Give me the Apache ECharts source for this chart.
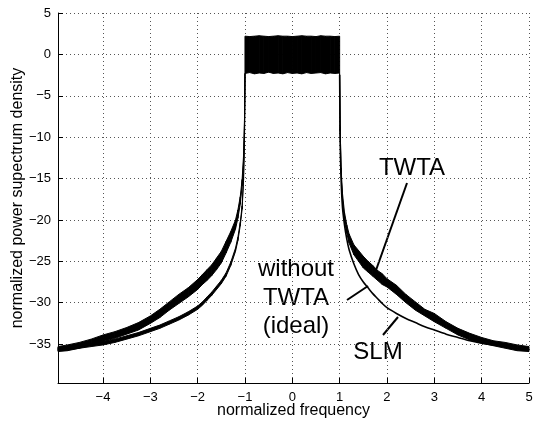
<!DOCTYPE html>
<html>
	<head>
		<meta charset="utf-8">
		<title>normalized power spectrum</title>
		<script src="https://cdn.jsdelivr.net/npm/echarts@6/dist/echarts.min.js"></script>
		<style>
			html, body { margin: 0; padding: 0; background: #fff; }
		</style>
	</head>
	<body>
		<div id="main" style="width: 535px;height:422px;"></div>
		<script type="text/javascript">
			// tick labels
			var xTicks = [-4, -3, -2, -1, 0, 1, 2, 3, 4, 5];
			var yTicks = [5, 0, -5, -10, -15, -20, -25, -30, -35];

			// in-band part (-1 .. 1), noisy band between top and bottom
			var bandF = [-1.0, -0.9, -0.8, -0.7, -0.6, -0.5, -0.4, -0.3, -0.2, -0.1, 0, 0.1, 0.2, 0.3, 0.4, 0.5, 0.6, 0.7, 0.8, 0.9, 1.0];
			var bandTop = [2.2, 2.15, 2.2, 2.25, 2.2, 2.15, 2.2, 2.25, 2.2, 2.2, 2.15, 2.2, 2.25, 2.2, 2.2, 2.15, 2.25, 2.2, 2.2, 2.15, 2.2];
			var bandBot = [-2.3, -2.2, -2.35, -2.25, -2.3, -2.15, -2.3, -2.25, -2.35, -2.2, -2.3, -2.25, -2.35, -2.2, -2.3, -2.25, -2.2, -2.35, -2.25, -2.3, -2.25];

			// out-of-band, right side
			var fR = [1.0, 1.01, 1.03, 1.06, 1.1, 1.15, 1.2, 1.3, 1.4, 1.5, 1.6, 1.7, 1.8, 1.9, 2.0, 2.2, 2.4, 2.6, 2.8, 3.0, 3.25, 3.5, 3.75, 4.0, 4.25, 4.5, 4.75, 5.0];
			var twtaUpR = [-2.3, -8.7, -13.7, -16.8, -19.0, -20.6, -21.7, -23.0, -23.7, -24.4, -25.0, -25.5, -26.1, -26.5, -27.1, -27.9, -29.0, -29.9, -30.8, -31.3, -32.3, -33.1, -33.7, -34.2, -34.6, -34.8, -35.1, -35.3];
			var twtaLoR = [-2.7, -9.3, -14.3, -17.6, -20.0, -21.6, -22.8, -24.2, -25.0, -25.8, -26.3, -26.8, -27.3, -27.8, -28.1, -29.0, -30.0, -30.9, -31.6, -32.3, -33.1, -33.9, -34.5, -34.9, -35.2, -35.5, -35.8, -35.9];
			var idealR = [-2.5, -10, -15, -18.5, -20.5, -22.3, -23.6, -25.3, -26.6, -27.5, -28.2, -28.9, -29.5, -30.1, -30.6, -31.3, -31.9, -32.4, -32.9, -33.3, -33.8, -34.2, -34.6, -34.9, -35.1, -35.3, -35.5, -35.6];

			// out-of-band, left side
			var fL = [-1.0, -1.01, -1.03, -1.06, -1.1, -1.15, -1.2, -1.3, -1.4, -1.5, -1.6, -1.7, -1.8, -1.9, -2.0, -2.2, -2.4, -2.6, -2.8, -3.0, -3.25, -3.5, -3.75, -4.0, -4.25, -4.5, -4.75, -4.95];
			var twtaUpL = [-2.3, -7.7, -12.2, -15.1, -17.2, -18.8, -20.0, -21.4, -22.6, -23.8, -24.6, -25.4, -26.0, -26.6, -27.2, -28.2, -29.0, -29.9, -30.8, -31.6, -32.4, -33.0, -33.5, -33.9, -34.4, -34.8, -35.1, -35.3];
			var twtaLoL = [-2.7, -8.3, -12.9, -15.9, -18.1, -19.8, -21.1, -22.7, -24.0, -25.2, -26.0, -26.7, -27.3, -27.8, -28.4, -29.3, -30.1, -30.9, -31.8, -32.5, -33.3, -33.8, -34.3, -34.7, -35.1, -35.5, -35.8, -35.9];
			var slmUpL = [-2.3, -9.8, -14.8, -18.3, -20.3, -22.1, -23.4, -25.1, -26.4, -27.3, -28.0, -28.7, -29.3, -29.9, -30.4, -31.1, -31.7, -32.2, -32.7, -33.1, -33.6, -34.0, -34.4, -34.7, -34.9, -35.1, -35.3, -35.4];
			var slmLoL = [-2.7, -10.2, -15.2, -18.7, -20.7, -22.5, -23.8, -25.5, -26.8, -27.7, -28.4, -29.1, -29.7, -30.3, -30.8, -31.5, -32.1, -32.6, -33.1, -33.5, -34.0, -34.4, -34.8, -35.1, -35.3, -35.5, -35.7, -35.8];

			// segments [fA, upA, loA, fB, upB, loB] for a filled band
			function segments(f, up, lo) {
				var out = [];
				for (var i = 0; i < f.length - 1; i++) {
					out.push([f[i], up[i], lo[i], f[i + 1], up[i + 1], lo[i + 1]]);
				}
				return out;
			}
			function pairs(f, v) {
				return f.map(function (x, i) { return [x, v[i]]; });
			}
			function renderBand(params, api) {
				var a1 = api.coord([api.value(0), api.value(1)]);
				var a2 = api.coord([api.value(0), api.value(2)]);
				var b1 = api.coord([api.value(3), api.value(4)]);
				var b2 = api.coord([api.value(3), api.value(5)]);
				return {
					type: 'polygon',
					shape: { points: [a1, b1, b2, a2] },
					style: { fill: '#000', stroke: '#000', lineWidth: 1 }
				};
			}
			function band(name, f, up, lo) {
				return {
					name: name,
					type: 'custom',
					renderItem: renderBand,
					data: segments(f, up, lo),
					encode: { x: [0, 3], y: [1, 2, 4, 5] },
					silent: true
				};
			}

			function minus(v) {
				return String(v).replace('-', '\u2212');
			}

			var myChart = echarts.init(document.getElementById('main'));
			var font = 'Liberation Sans, Arial, Helvetica, sans-serif';
			var option = {
				animation: false,
				grid: { left: 58, right: 6, top: 13, bottom: 39, containLabel: false, outerBoundsMode: 'none' },
				xAxis: {
					type: 'value',
					min: -4.95,
					max: 5,
					splitNumber: 10,
					name: 'normalized frequency',
					nameLocation: 'middle',
					nameGap: 20,
					nameMoveOverlap: false,
					nameTextStyle: { fontFamily: font, fontSize: 16, color: '#000' },
					axisLine: { onZero: false, lineStyle: { color: '#000', width: 1 } },
					axisTick: { inside: true, length: 5, lineStyle: { color: '#000' } },
					axisLabel: {
						showMinLabel: false,
						margin: 8,
						fontFamily: font, fontSize: 13, color: '#000',
						formatter: function (v) { return xTicks.indexOf(v) >= 0 ? minus(v) : ''; }
					},
					splitLine: { show: true, lineStyle: { color: '#555', width: 1, type: [1, 3] } }
				},
				yAxis: {
					type: 'value',
					min: -39.7,
					max: 5,
					splitNumber: 9,
					name: 'normalized power supectrum density',
					nameLocation: 'middle',
					nameGap: 32,
					nameMoveOverlap: false,
					nameTextStyle: { fontFamily: font, fontSize: 16, color: '#000' },
					axisLine: { show: true, onZero: false, lineStyle: { color: '#000', width: 1 } },
					axisTick: { show: true, inside: true, length: 5, lineStyle: { color: '#000' } },
					axisLabel: {
						showMinLabel: false,
						margin: 7,
						fontFamily: font, fontSize: 13, color: '#000',
						formatter: function (v) { return yTicks.indexOf(v) >= 0 ? minus(v) : ''; }
					},
					splitLine: { show: true, lineStyle: { color: '#555', width: 1, type: [1, 3] } }
				},
				series: [
					band('in-band', bandF, bandTop, bandBot),
					band('TWTA', fR, twtaUpR, twtaLoR),
					band('TWTA', fL, twtaUpL, twtaLoL),
					band('SLM', fL, slmUpL, slmLoL),
					{
						name: 'without TWTA (ideal)',
						type: 'line',
						data: pairs(fR, idealR),
						symbol: 'none',
						smooth: 0.3,
						lineStyle: { color: '#000', width: 1.6 },
						silent: true
					}
				],
				graphic: [
					{ type: 'text', x: 412, y: 168, style: { text: 'TWTA', fontFamily: font, fontSize: 24, fill: '#000', align: 'center', verticalAlign: 'middle' } },
					{ type: 'line', shape: { x1: 407, y1: 183, x2: 375, y2: 273 }, style: { stroke: '#000', lineWidth: 2 } },
					{ type: 'text', x: 296, y: 298, style: { text: 'without\nTWTA\n(ideal)', fontFamily: font, fontSize: 24, lineHeight: 28.5, fill: '#000', align: 'center', verticalAlign: 'middle' } },
					{ type: 'line', shape: { x1: 347, y1: 300, x2: 368, y2: 286 }, style: { stroke: '#000', lineWidth: 2 } },
					{ type: 'text', x: 378, y: 352, style: { text: 'SLM', fontFamily: font, fontSize: 24, fill: '#000', align: 'center', verticalAlign: 'middle' } },
					{ type: 'line', shape: { x1: 383, y1: 335, x2: 398, y2: 317 }, style: { stroke: '#000', lineWidth: 2 } }
				]
			};
			myChart.setOption(option);
		</script>
	</body>
</html>
